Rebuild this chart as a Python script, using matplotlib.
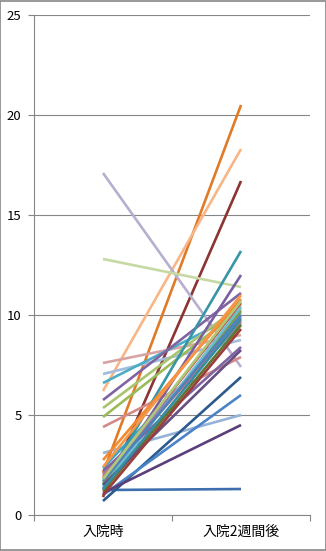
import matplotlib
matplotlib.use("Agg")
import matplotlib.pyplot as plt
from matplotlib.patches import Rectangle

plt.rcParams['font.family'] = ['Noto Sans CJK JP', 'DejaVu Sans']

categories = ['入院時', '入院2週間後']

# 各患者の値（入院時 -> 入院2週間後）
start = [1.25, 0.9, 2.1, 6.2, 17.1, 12.8, 7.6, 4.4, 7.05, 6.6,
         5.75, 5.35, 4.9, 3.1, 2.35, 0.7, 1.0, 1.1, 1.5, 1.3,
         2.75, 1.8, 1.6, 2.0, 1.4, 1.9, 2.2, 1.2, 1.7, 1.5,
         2.4, 1.0, 1.8, 1.3]
end = [1.3, 16.7, 20.5, 18.3, 7.4, 11.4, 9.0, 7.9, 8.75, 10.1,
       11.1, 10.5, 10.3, 5.0, 9.6, 6.9, 6.0, 4.5, 13.2, 12.0,
       10.8, 10.6, 10.2, 9.9, 10.4, 9.7, 8.4, 9.5, 10.0, 8.25,
       11.0, 9.3, 10.7, 9.8]
colors = ['#3E6EAD', '#8B3432', '#E07A26', '#F9B585', '#B8AECF', '#C6D9A3',
          '#D9A3A3', '#D68A88', '#A2BCDD', '#4BACC6',
          '#8064A2', '#A8C46E', '#9BBB59', '#95B3D7', '#3CA6C4', '#2C5A8C',
          '#4A84C6', '#5B3E7A', '#3795A8', '#7A5FA0',
          '#F28A30', '#C0504D', '#7E9D40', '#9983B5', '#6FBDD1', '#CD7371',
          '#8064A2', '#5F7530', '#4F81BD', '#664F82',
          '#F79646', '#9C3D3A', '#AFC97A', '#358EA6']

fig = plt.figure(figsize=(3.26, 5.51), dpi=100)
ax = fig.add_axes([0.1043, 0.0653, 0.8467, 0.9075])

x = [0.5, 1.5]
for s, e, c in zip(start, end, colors):
    ax.plot(x, [s, e], color=c, lw=1.9, solid_capstyle='butt')

ax.set_xlim(0, 2)
ax.set_ylim(0, 25)
ax.set_yticks([0, 5, 10, 15, 20, 25])
ax.yaxis.grid(True, color='#868686', lw=0.8)
ax.set_axisbelow(True)

ax.set_xticks([0, 1, 2])
ax.set_xticklabels([])
ax.set_xticks(x, minor=True)
ax.set_xticklabels(categories, minor=True, fontsize=10)
ax.tick_params(axis='x', which='minor', length=0, pad=7)
ax.tick_params(axis='x', which='major', length=4, color='#868686', direction='out')
ax.tick_params(axis='y', length=4, color='#868686', labelsize=9.5, pad=5)

for side in ['top', 'right']:
    ax.spines[side].set_visible(False)
for side in ['left', 'bottom']:
    ax.spines[side].set_color('#868686')
    ax.spines[side].set_linewidth(0.8)

fig.patches.append(Rectangle((0.0015, 0.001), 0.997, 0.998, transform=fig.transFigure,
                             fill=False, edgecolor='#868686', lw=1.2))

fig.savefig('out.png', dpi=100)
